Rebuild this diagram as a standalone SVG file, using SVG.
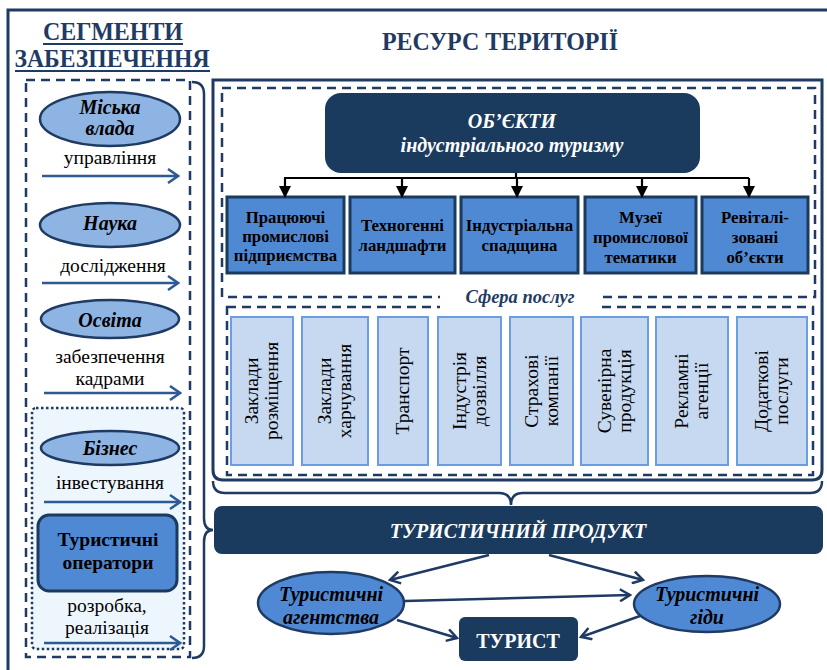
<svg xmlns="http://www.w3.org/2000/svg" width="827" height="670" viewBox="0 0 827 670">
<defs>
<style>
.serif{font-family:"Liberation Serif","Times New Roman",serif}
.title{font-family:"Liberation Serif","Times New Roman",serif;font-weight:bold;font-size:25px;fill:#1f3b63}
.lbl{font-family:"Liberation Serif","Times New Roman",serif;font-size:19.5px;fill:#000;text-anchor:middle}
.ell{fill:#8db4e2;stroke:#1f3b63;stroke-width:2.5}
.elltxt{font-family:"Liberation Serif","Times New Roman",serif;font-weight:bold;font-style:italic;font-size:20px;fill:#000;text-anchor:middle}
.bluebox{fill:#5089d3;stroke:#1a3a5e;stroke-width:3}
.boxtxt{font-family:"Liberation Serif","Times New Roman",serif;font-weight:bold;font-size:16.8px;fill:#000;text-anchor:middle}
.svc{fill:#c6d9f0;stroke:#6a9ee0;stroke-width:2}
.svctxt{font-family:"Liberation Serif","Times New Roman",serif;font-size:19.5px;fill:#000;text-anchor:middle}
.navy{fill:#1a3a5e}
.wtxt{font-family:"Liberation Serif","Times New Roman",serif;font-weight:bold;font-style:italic;font-size:20px;fill:#fff;text-anchor:middle}
.dash{fill:none;stroke:#1f3b63;stroke-width:2.5;stroke-dasharray:9,6}
.larr{stroke:#2e5a94;stroke-width:2.5;fill:none;marker-end:url(#chevBlue)}
.barr{stroke:#1f3b63;stroke-width:2.5;fill:none;marker-end:url(#chevNavy)}
.karr{stroke:#000;stroke-width:2.2;fill:none}
</style>
<marker id="chevBlue" markerUnits="userSpaceOnUse" markerWidth="14" markerHeight="16" refX="12" refY="8" orient="auto">
<path d="M2,1 L12,8 L2,15" fill="none" stroke="#2e5a94" stroke-width="2.5"/>
</marker>
<marker id="chevNavy" markerUnits="userSpaceOnUse" markerWidth="14" markerHeight="14" refX="12" refY="7" orient="auto">
<path d="M2,1 L12,7 L2,13" fill="none" stroke="#1f3b63" stroke-width="2.5"/>
</marker>
<marker id="triBlack" markerUnits="userSpaceOnUse" markerWidth="12" markerHeight="12" refX="6" refY="11" orient="0">
<path d="M0,0 L12,0 L6,12 Z" fill="#000"/>
</marker>
</defs>

<!-- outer frame -->
<path d="M8,670 V10 H827" fill="none" stroke="#1f3b63" stroke-width="3"/>

<!-- titles -->
<g id="title-left">
<text class="title" x="113" y="40" text-anchor="middle" textLength="140" lengthAdjust="spacingAndGlyphs">СЕГМЕНТИ</text>
<line x1="43" y1="44" x2="183" y2="44" stroke="#1f3b63" stroke-width="2"/>
<text class="title" x="112" y="67" text-anchor="middle" textLength="195" lengthAdjust="spacingAndGlyphs">ЗАБЕЗПЕЧЕННЯ</text>
<line x1="15" y1="71" x2="210" y2="71" stroke="#1f3b63" stroke-width="2"/>
</g>
<g id="title-right">
<text class="title" x="500" y="50" text-anchor="middle" textLength="236" lengthAdjust="spacingAndGlyphs">РЕСУРС ТЕРИТОРІЇ</text>
</g>

<!-- left column -->
<g id="left-column">
<rect x="26" y="80" width="164" height="577" class="dash"/>
<rect x="32" y="408" width="152" height="241" rx="4" fill="#eef6fd" stroke="#1f3b63" stroke-width="2.5" stroke-dasharray="2.5,2.5"/>
</g>

<g id="miska-vlada">
<ellipse cx="110" cy="119" rx="70" ry="27" class="ell"/>
<text class="elltxt" x="110" y="114">Міська</text>
<text class="elltxt" x="110" y="135">влада</text>
</g>
<g id="nauka">
<ellipse cx="110" cy="225" rx="70" ry="22" class="ell"/>
<text class="elltxt" x="110" y="230">Наука</text>
</g>
<g id="osvita">
<ellipse cx="110" cy="319" rx="69" ry="19" class="ell"/>
<text class="elltxt" x="110" y="327">Освіта</text>
</g>
<g id="biznes">
<ellipse cx="110" cy="448" rx="69" ry="17" class="ell"/>
<text class="elltxt" x="110" y="455">Бізнес</text>
</g>
<g id="tur-operatory">
<rect x="38" y="515" width="139" height="76" rx="11" fill="#5089d3" stroke="#1a3a5e" stroke-width="3"/>
<text class="lbl" x="108" y="546" font-weight="bold" font-size="20">Туристичні</text>
<text class="lbl" x="108" y="569" font-weight="bold" font-size="20">оператори</text>
</g>

<g id="left-labels">
<text class="lbl" x="110" y="164">управління</text>
<text class="lbl" x="113" y="272">дослідження</text>
<text class="lbl" x="110" y="363">забезпечення</text>
<text class="lbl" x="110" y="385">кадрами</text>
<text class="lbl" x="107" y="612">розробка,</text>
<text class="lbl" x="107" y="634">реалізація</text>
<text class="lbl" x="110" y="489">інвестування</text>
</g>

<!-- main resource box -->
<g id="resource-box">
<path d="M213,80 H822 V470 Q822,480 812,480 H223 Q213,480 213,470 Z" fill="#fff" stroke="#1f3b63" stroke-width="3"/>
<rect x="222" y="88" width="593" height="209" class="dash"/>
<rect x="227" y="307" width="586" height="168" class="dash"/>
<rect x="440" y="291" width="158" height="21" fill="#fff"/>
<text x="520" y="303" font-family="Liberation Serif, Times New Roman, serif" font-weight="bold" font-style="italic" font-size="18.5" fill="#1f3b63" text-anchor="middle">Сфера послуг</text>
</g>

<g id="objects">
<rect x="325" y="93" width="375" height="80" rx="16" class="navy"/>
<text class="wtxt" x="512" y="128">ОБ’ЄКТИ</text>
<text class="wtxt" x="512" y="152">індустріального туризму</text>
</g>

<g id="obj-1">
<rect x="227" y="197" width="117" height="76" class="bluebox"/>
<text class="boxtxt" x="285.5" y="223">Працюючі</text>
<text class="boxtxt" x="285.5" y="242">промислові</text>
<text class="boxtxt" x="285.5" y="261">підприємства</text>
</g>
<g id="obj-2">
<rect x="350" y="197" width="105" height="76" class="bluebox"/>
<text class="boxtxt" x="402.5" y="231">Техногенні</text>
<text class="boxtxt" x="402.5" y="251">ландшафти</text>
</g>
<g id="obj-3">
<rect x="461" y="197" width="117" height="76" class="bluebox"/>
<text class="boxtxt" x="519.5" y="231">Індустріальна</text>
<text class="boxtxt" x="519.5" y="251">спадщина</text>
</g>
<g id="obj-4">
<rect x="585" y="197" width="111" height="76" class="bluebox"/>
<text class="boxtxt" x="640.5" y="223">Музеї</text>
<text class="boxtxt" x="640.5" y="243">промислової</text>
<text class="boxtxt" x="640.5" y="263">тематики</text>
</g>
<g id="obj-5">
<rect x="702" y="197" width="106" height="76" class="bluebox"/>
<text class="boxtxt" x="755" y="223">Ревіталі-</text>
<text class="boxtxt" x="755" y="243">зовані</text>
<text class="boxtxt" x="755" y="263">об’єкти</text>
</g>

<!-- services -->
<g id="svc-1"><rect x="231" y="317" width="62" height="148" class="svc"/>
<text class="svctxt" transform="translate(262,391) rotate(-90)"><tspan x="0" y="-4">Заклади</tspan><tspan x="0" y="16">розміщення</tspan></text></g>
<g id="svc-2"><rect x="302" y="317" width="66" height="148" class="svc"/>
<text class="svctxt" transform="translate(335,391) rotate(-90)"><tspan x="0" y="-4">Заклади</tspan><tspan x="0" y="16">харчування</tspan></text></g>
<g id="svc-3"><rect x="378" y="317" width="50" height="148" class="svc"/>
<text class="svctxt" transform="translate(403,391) rotate(-90)"><tspan x="0" y="6">Транспорт</tspan></text></g>
<g id="svc-4"><rect x="438" y="317" width="63" height="148" class="svc"/>
<text class="svctxt" transform="translate(469.5,391) rotate(-90)"><tspan x="0" y="-4">Індустрія</tspan><tspan x="0" y="16">дозвілля</tspan></text></g>
<g id="svc-5"><rect x="510" y="317" width="63" height="148" class="svc"/>
<text class="svctxt" transform="translate(541.5,391) rotate(-90)"><tspan x="0" y="-4">Страхові</tspan><tspan x="0" y="16">компанії</tspan></text></g>
<g id="svc-6"><rect x="581" y="317" width="67" height="148" class="svc"/>
<text class="svctxt" transform="translate(614.5,391) rotate(-90)"><tspan x="0" y="-4">Сувенірна</tspan><tspan x="0" y="16">продукція</tspan></text></g>
<g id="svc-7"><rect x="656" y="317" width="72" height="148" class="svc"/>
<text class="svctxt" transform="translate(692,391) rotate(-90)"><tspan x="0" y="-4">Рекламні</tspan><tspan x="0" y="16">агенції</tspan></text></g>
<g id="svc-8"><rect x="737" y="317" width="70" height="148" class="svc"/>
<text class="svctxt" transform="translate(772,391) rotate(-90)"><tspan x="0" y="-4">Додаткові</tspan><tspan x="0" y="16">послуги</tspan></text></g>

<!-- product & bottom nodes -->
<g id="product">
<rect x="214" y="506" width="609" height="48" rx="8" class="navy"/>
<text class="wtxt" x="518" y="538">ТУРИСТИЧНИЙ ПРОДУКТ</text>
</g>
<g id="agencies">
<ellipse cx="331" cy="603" rx="73" ry="31" fill="#5089d3" stroke="#1f3b63" stroke-width="2.5"/>
<text class="elltxt" x="331" y="601">Туристичні</text>
<text class="elltxt" x="331" y="624">агентства</text>
</g>
<g id="guides">
<ellipse cx="707" cy="604" rx="73" ry="28" fill="#5089d3" stroke="#1f3b63" stroke-width="2.5"/>
<text class="elltxt" x="707" y="601">Туристичні</text>
<text class="elltxt" x="707" y="624">гіди</text>
</g>
<g id="tourist">
<rect x="459" y="617" width="119" height="44" rx="6" class="navy"/>
<text x="518" y="648" font-family="Liberation Serif, Times New Roman, serif" font-weight="bold" font-size="20" fill="#fff" text-anchor="middle">ТУРИСТ</text>
</g>

<!-- connectors -->
<g id="connectors">
<line class="larr" x1="42" y1="176" x2="178" y2="176"/>
<line class="larr" x1="42" y1="283" x2="178" y2="283"/>
<line class="larr" x1="44" y1="393" x2="180" y2="393"/>
<line class="larr" x1="44" y1="502" x2="180" y2="502"/>
<line class="larr" x1="44" y1="643" x2="180" y2="643"/>
<!-- left brace -->
<path d="M192,82 Q204,82 204,94 V518 Q204,530 213,530 Q204,530 204,542 V646 Q204,658 192,658" fill="none" stroke="#1f3b63" stroke-width="2.5"/>
<!-- bottom brace -->
<path d="M213,481 Q213,493 225,493 H499 Q511,493 511,505 Q511,493 523,493 H810 Q822,493 822,481" fill="none" stroke="#1f3b63" stroke-width="2.5"/>
<!-- object tree -->
<path class="karr" d="M516,173 V178 M284,178 H749"/>
<path class="karr" d="M285,178 V197" marker-end="url(#triBlack)"/>
<path class="karr" d="M402,178 V197" marker-end="url(#triBlack)"/>
<path class="karr" d="M517,178 V197" marker-end="url(#triBlack)"/>
<path class="karr" d="M642,178 V197" marker-end="url(#triBlack)"/>
<path class="karr" d="M749,178 V197" marker-end="url(#triBlack)"/>
<!-- bottom flow -->
<line class="barr" x1="489" y1="555" x2="390" y2="580"/>
<line class="barr" x1="549" y1="555" x2="643" y2="580"/>
<line class="barr" x1="405" y1="601" x2="630" y2="595"/>
<line class="barr" x1="397" y1="620" x2="457" y2="638"/>
<line class="barr" x1="640" y1="616" x2="581" y2="637"/>
</g>
</svg>
